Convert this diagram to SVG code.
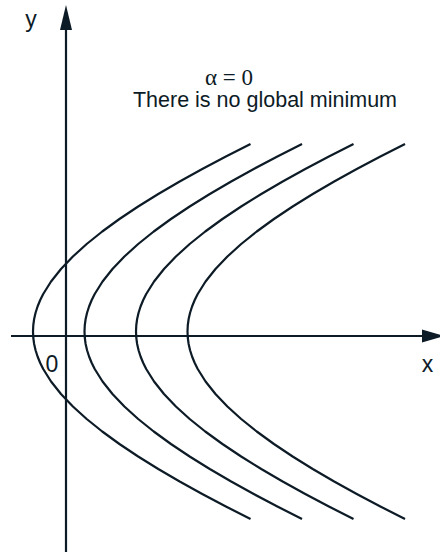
<svg xmlns="http://www.w3.org/2000/svg" width="440" height="552" viewBox="0 0 440 552">
<style>
.ax{stroke:#0d1b26;stroke-width:2.2;fill:none}
.cv{stroke:#0d1b26;stroke-width:2.2;fill:none;stroke-linejoin:round;stroke-linecap:butt}
.ah{fill:#0d1b26}
.lb{font-family:"Liberation Sans",Arial,sans-serif;font-size:23px;fill:#0d1b26}
.tx{font-family:"Liberation Sans",Arial,sans-serif;font-size:21.5px;fill:#0d1b26}
.sf{font-family:"Liberation Serif","Times New Roman",serif;font-size:23px;fill:#0d1b26}
</style>
<defs>
<path id="hyp" d="M217.51,-187.5 L192.89,-175 L169.25,-162.5 L146.68,-150 L125.28,-137.5 L105.16,-125 L86.45,-112.5 L69.25,-100 L53.69,-87.5 L39.90,-75 L27.98,-62.5 L18.06,-50 L10.22,-37.5 L7.12,-31.25 L4.57,-25 L2.57,-18.75 L1.14,-12.5 L0.29,-6.25 L0,0 L0.29,6.25 L1.14,12.5 L2.57,18.75 L4.57,25 L7.12,31.25 L10.22,37.5 L18.06,50 L27.98,62.5 L39.90,75 L53.69,87.5 L69.25,100 L86.45,112.5 L105.16,125 L125.28,137.5 L146.68,150 L169.25,162.5 L192.89,175 L217.51,187.5"/>
</defs>
<g id="axes">
<line class="ax" x1="66" y1="28" x2="66" y2="552"/>
<polygon class="ah" points="66,5 60,30 72,30"/>
<line class="ax" x1="11" y1="336" x2="424" y2="336"/>
<polygon class="ah" points="444,336 422,329.5 422,342.5"/>
</g>
<g id="curves">
<use href="#hyp" class="cv" transform="translate(33,331.5)"/>
<use href="#hyp" class="cv" transform="translate(84.5,331.5)"/>
<use href="#hyp" class="cv" transform="translate(136,331.5)"/>
<use href="#hyp" class="cv" transform="translate(187.5,331.5)"/>
</g>
<g id="labels">
<text class="lb" x="31" y="27" text-anchor="middle">y</text>
<text class="lb" x="427.5" y="372" text-anchor="middle">x</text>
<text class="lb" x="52" y="372" text-anchor="middle">0</text>
<text class="sf" x="229" y="85" text-anchor="middle">α = 0</text>
<text class="tx" x="265" y="107" text-anchor="middle">There is no global minimum</text>
</g>
</svg>
